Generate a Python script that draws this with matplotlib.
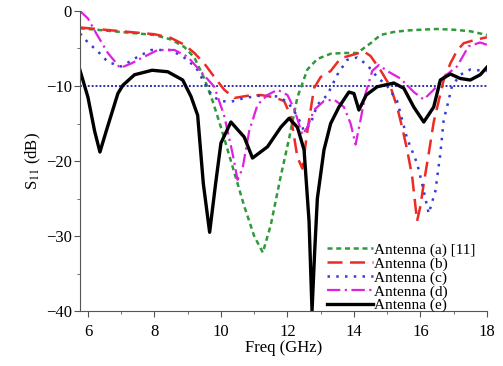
import matplotlib
matplotlib.use("Agg")
import matplotlib.pyplot as plt
from matplotlib.ticker import MultipleLocator

plt.rcParams["font.family"] = "Liberation Serif"
plt.rcParams["mathtext.fontset"] = "stix"

# Antenna (a) [11]
fa = [5.76, 6.5, 7.0, 7.5, 8.0, 8.5, 8.9, 9.2, 9.5, 9.75, 10.0, 10.3, 10.7, 11.0, 11.26,
      11.5, 11.8, 12.05, 12.3, 12.6, 12.9, 13.3, 13.7, 14.1, 14.5, 14.8, 15.2, 15.6, 16.0,
      16.5, 17.0, 17.5, 18.0]
sa = [-2.3, -2.6, -2.8, -3.0, -3.2, -3.8, -4.8, -6.2, -9.0, -12.0, -15.5, -20.0, -26.0, -30.0, -32.2,
      -28.5, -22.0, -17.0, -11.5, -7.8, -6.4, -5.7, -5.6, -5.6, -4.3, -3.2, -2.8, -2.6, -2.5,
      -2.4, -2.5, -2.7, -3.2]

# Antenna (b)
fb = [5.76, 6.5, 7.0, 7.5, 8.0, 8.5, 8.9, 9.2, 9.5, 9.8, 10.1, 10.4, 10.8, 11.2, 11.6, 11.9,
      12.1, 12.3, 12.45, 12.6, 12.8, 13.0, 13.3, 13.6, 14.0, 14.3, 14.5, 14.8, 15.1, 15.3,
      15.45, 15.6, 15.75, 15.9, 16.0, 16.1, 16.25, 16.4, 16.55, 16.7, 16.9, 17.1, 17.3, 17.6, 18.0]
sb = [-2.2, -2.5, -2.7, -2.9, -3.1, -3.6, -4.5, -5.6, -7.0, -8.8, -10.5, -11.6, -11.3, -11.2, -11.5, -12.0,
      -14.0, -19.5, -21.0, -16.0, -10.3, -8.8, -8.0, -6.3, -5.8, -5.4, -6.0, -7.9, -10.1, -12.8,
      -15.5, -18.5, -22.0, -28.0, -26.0, -23.0, -19.0, -14.8, -12.0, -9.2, -7.0, -5.3, -4.3, -3.9, -3.5]

# Antenna (c)
fc = [5.76, 6.0, 6.3, 6.6, 7.0, 7.5, 7.9, 8.5, 9.0, 9.3, 9.5, 9.75, 10.0, 10.3, 10.7, 11.3,
      11.7, 12.0, 12.3, 12.5, 12.7, 12.9, 13.2, 13.5, 13.8, 14.1, 14.4, 14.7, 15.0, 15.3,
      15.6, 15.9, 16.05, 16.25, 16.45, 16.6, 16.7, 16.8, 16.95, 17.2, 17.5, 18.0]
sc = [-3.0, -4.2, -5.4, -6.8, -7.4, -6.1, -5.2, -5.2, -6.5, -7.9, -9.6, -11.4, -12.0, -12.1, -11.6, -11.2,
      -11.4, -12.1, -14.0, -16.0, -15.0, -12.5, -11.2, -8.5, -6.5, -6.2, -7.2, -8.8, -10.0, -12.0,
      -17.0, -20.3, -23.0, -27.0, -24.0, -19.0, -14.5, -12.8, -10.0, -8.5, -7.8, -8.0]

# Antenna (d)
fd = [5.76, 6.0, 6.25, 6.6, 6.97, 7.3, 7.6, 8.1, 8.6, 9.0, 9.4, 9.8, 10.1, 10.35, 10.5, 10.65,
      10.85, 11.1, 11.4, 11.7, 12.0, 12.2, 12.45, 12.6, 12.8, 13.1, 13.4, 13.7, 13.9, 14.05,
      14.2, 14.35, 14.55, 14.75, 15.0, 15.4, 15.8, 16.1, 16.4, 16.7, 17.1, 17.45, 17.8, 18.0]
sd = [0.0, -1.0, -3.0, -5.6, -7.6, -7.0, -6.3, -5.2, -5.2, -6.1, -8.1, -10.1, -14.0, -19.0, -22.5, -21.0,
      -16.0, -12.5, -11.2, -10.5, -11.2, -13.0, -16.5, -15.5, -13.2, -12.0, -11.8, -12.8, -15.0, -17.8,
      -14.5, -11.0, -8.0, -7.2, -8.0, -9.0, -10.8, -11.8, -10.5, -8.8, -7.4, -4.7, -4.2, -4.5]

# Antenna (e)
fe = [5.76, 6.0, 6.2, 6.36, 6.55, 6.9, 7.05, 7.4, 7.93, 8.4, 8.85, 9.1, 9.3, 9.47, 9.66, 9.84,
      10.0, 10.3, 10.7, 10.95, 11.4, 11.8, 12.05, 12.3, 12.5, 12.65, 12.74, 12.82, 12.9, 13.1,
      13.3, 13.55, 13.85, 14.0, 14.15, 14.37, 14.7, 15.2, 15.5, 15.8, 16.1, 16.4, 16.6, 16.9,
      17.2, 17.5, 17.8, 18.0]
se = [-7.9, -11.5, -16.0, -18.8, -16.0, -11.0, -9.9, -8.5, -7.9, -8.1, -9.2, -11.4, -13.9, -23.0, -29.5, -23.0,
      -17.6, -14.8, -16.8, -19.6, -18.1, -15.5, -14.3, -15.5, -18.5, -28.0, -40.0, -32.0, -25.0, -18.5,
      -15.0, -12.8, -10.8, -11.0, -13.2, -11.2, -10.1, -9.6, -10.3, -12.8, -14.8, -12.8, -9.2, -8.4,
      -9.0, -9.2, -8.5, -7.5]

ref_level = -10

fig = plt.figure(figsize=(5.03, 3.66), dpi=100)
ax = fig.add_axes([0.159, 0.150, 0.809, 0.820])

ax.axhline(ref_level, color="#3030b0", linestyle=(0, (1, 1)), linewidth=1.4)
ax.plot(fa, sa, color="#2e9a3a", linestyle=(0, (2, 1.5)), linewidth=1.8, label="Antenna (a) [11]")
ax.plot(fb, sb, color="#ee2a24", linestyle=(0, (6, 3)), linewidth=1.8, label="Antenna (b)")
ax.plot(fc, sc, color="#3a3ad8", linestyle=(0, (1, 2.5)), linewidth=1.8, label="Antenna (c)")
ax.plot(fd, sd, color="#e020e0", linestyle=(0, (6, 2, 1, 2)), linewidth=1.6, label="Antenna (d)")
ax.plot(fe, se, color="black", linewidth=2.4, label="Antenna (e)")

ax.set_xlim(5.76, 18)
ax.set_ylim(-40, 0)
ax.xaxis.set_major_locator(MultipleLocator(2))
ax.xaxis.set_minor_locator(MultipleLocator(1))
ax.yaxis.set_major_locator(MultipleLocator(10))
ax.yaxis.set_minor_locator(MultipleLocator(5))
ax.tick_params(which="both", direction="out", labelsize=12, color="#555555", pad=2)
ax.tick_params(axis="x", pad=5)
ax.tick_params(which="major", length=4)
ax.tick_params(which="minor", length=2.5)
for side in ["top", "right"]:
    ax.spines[side].set_visible(False)
for side in ["left", "bottom"]:
    ax.spines[side].set_color("#555555")

ax.set_xlabel("Freq (GHz)", fontsize=12, labelpad=0)
ax.set_ylabel("S$_{11}$ (dB)", fontsize=12, labelpad=2)

ax.legend(loc="lower right", bbox_to_anchor=(0.995, -0.035), frameon=False, fontsize=11,
          labelspacing=0.0, handlelength=3.0, handletextpad=0.1, borderpad=0.1)

fig.savefig("out.png", dpi=100)
